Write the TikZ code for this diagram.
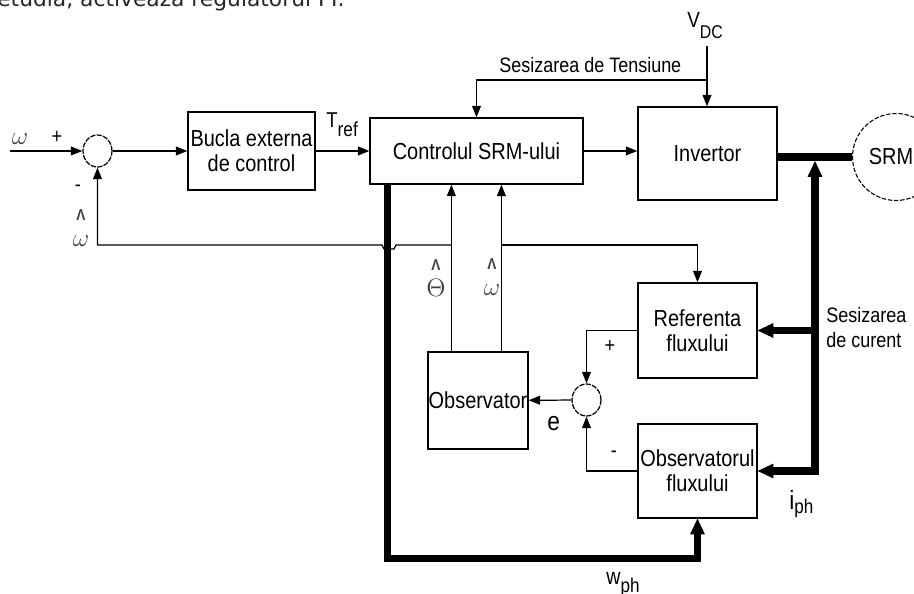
\documentclass[tikz,border=0pt]{standalone}
\usepackage{fontspec}
\setmainfont{Liberation Sans}[FakeStretch=0.86]
\newfontfamily\docfont{DejaVu Sans}
\usetikzlibrary{arrows.meta,calc,shapes.geometric}

\newcommand\blkfont{\fontsize{13.2}{14.2}\selectfont}
\newcommand\notefont{\fontsize{11.9}{14.2}\selectfont}
\newcommand\estim[1]{{\fontsize{9}{9}\selectfont\bfseries Λ}\\[1pt]$#1$}

\tikzset{
  blk/.style={draw, line width=0.7pt, font=\blkfont, align=center, inner sep=0pt},
  sumc/.style={ellipse, draw, line width=0.7pt, minimum width=0.58cm, minimum height=0.64cm,
    inner sep=0pt, dash pattern=on 3pt off 0.7pt},
  sig/.style={line width=0.7pt, -{Triangle[length=6.5pt,width=5pt]}},
  bus/.style={line width=4.4pt, -{Triangle[length=9pt,width=8.5pt,line width=0pt]}},
  lbl/.style={inner sep=0pt, font=\blkfont},
  greek/.style={inner sep=0pt, align=center, text=black!75, font=\fontsize{13.5}{13.5}\selectfont},
}

\begin{document}
\begin{tikzpicture}[x=0.02cm, y=-0.02cm, line join=miter]
  \useasboundingbox (0,0) rectangle (914,594);

  % line of the page above the figure
  \begin{scope}
    \clip (0,0) rectangle (914,594);
    \node[anchor=base west, inner sep=0pt, font=\docfont\fontsize{12.4}{13}\selectfont, text=black!85]
      (pagetxt) at (-3,7) {etudia, activeaza regulatorul PI.};
  \end{scope}

  % blocks
  \node[blk, minimum width=2.54cm, minimum height=1.56cm] (bucla) at (251.5,151) {Bucla externa\\de control};
  \node[blk, minimum width=4.26cm, minimum height=1.32cm] (ctrl) at (476.5,151) {Controlul SRM-ului};
  \node[blk, minimum width=2.78cm, minimum height=1.86cm] (inv) at (707.5,153.5) {Invertor};
  \node[blk, minimum width=2.38cm, minimum height=1.90cm] (ref) at (697.5,330.5) {Referenta\\fluxului};
  \node[blk, minimum width=2.38cm, minimum height=1.88cm] (obsf) at (697.5,471) {Observatorul\\fluxului};
  \node[blk, minimum width=2.00cm, minimum height=1.94cm] (obs) at (478,400.5) {Observator};
  \node[sumc] (sum1) at (97.5,151) {};
  \node[sumc] (sum2) at (586.5,400) {};
  \node[circle, draw, line width=0.6pt, minimum size=1.74cm, dash pattern=on 2.5pt off 1pt] (srm) at (896,157) {};
  \node[lbl] (srmtxt) at (891,157) {SRM};

  % signal paths
  \coordinate (win) at (10,151);
  \draw[sig] (win) -- (sum1);
  \draw[sig] (sum1) -- (bucla);
  \draw[sig] (bucla) -- (ctrl);
  \draw[sig] (ctrl.east) -- (ctrl.east -| inv.west);

  \coordinate (vdc) at (707,46);
  \coordinate (tens) at (707,80);
  \draw[sig] (vdc) -- (vdc |- inv.north);
  \draw[sig] (tens) -| (ctrl.north);

  % power line and current sensing
  \draw[line width=4.4pt] (inv.east |- srm) -- (srm);
  \coordinate (isens) at (815,475);
  \draw[bus] (isens) -- ($(isens |- srm)+(0,4)$);
  \draw[bus] (isens |- ref) -- (ref.east);
  \draw[bus] ($(isens |- obsf)+(4,0)$) -- (obsf.east);

  % phase speed to flux observer
  \draw[bus] (ctrl.south west) ++(18,0) -- ++(0,374) -| (obsf.south);

  % observer outputs and feedback
  \coordinate (thout) at ($(obs.north west)+(24,0)$);
  \coordinate (omout) at ($(obs.north west)+(74,0)$);
  \coordinate (fbrow) at (0,245);
  \draw[sig] (thout) -- (thout |- ctrl.south);
  \draw[sig] (omout) -- (omout |- ctrl.south);
  \draw[sig] (thout |- fbrow) -- (396,245) -- (394,249) -- (384,249) -- (382,245) -| (sum1);
  \draw[sig] (omout |- fbrow) -| (ref.north);

  % flux error
  \draw[sig] (ref.west) -| (sum2);
  \draw[sig] (obsf.west) -| (sum2);
  \draw[sig] (sum2) -- (obs);

  % labels
  \node[greek] (wlbl) at (20,139) {$\omega$};
  \node[lbl, font=\fontsize{12}{12}\selectfont] (plus1) at (57,137) {+};
  \node[lbl, font=\fontsize{12}{12}\selectfont] (minus1) at (78,188) {-};
  \node[greek] (whfb) at (81,228) {\estim{\omega}};
  \node[greek] (thlbl) at (436,278) {\estim{\Theta}};
  \node[greek] (whlbl) at (492,277) {\estim{\omega}};
  \node[lbl, anchor=base west, font=\fontsize{12.2}{13}\selectfont] (tref) at (326,128)
    {T\raisebox{-5pt}{\fontsize{11.5}{12}\selectfont ref}};
  \node[lbl, anchor=base west, font=\fontsize{12.5}{13}\selectfont] (vdclbl) at (687,28)
    {V\raisebox{-6pt}{\fontsize{10.5}{11}\selectfont DC}};
  \node[lbl, anchor=base west, font=\notefont] (tenslbl) at (499,73) {Sesizarea de Tensiune};
  \node[lbl, anchor=west, align=left, font=\notefont] (curlbl) at (826,328) {Sesizarea\\de curent};
  \node[lbl, anchor=base west, font=\fontsize{15}{15}\selectfont] (elbl) at (547,431) {e};
  \node[lbl, font=\fontsize{12}{12}\selectfont] (plus2) at (610,346) {+};
  \node[lbl, font=\fontsize{12}{12}\selectfont] (minus2) at (614,454) {-};
  \node[lbl, anchor=base west, font=\fontsize{15}{15}\selectfont] (iph) at (789,510)
    {i\raisebox{-2pt}{\fontsize{11.3}{12}\selectfont ph}};
  \node[lbl, anchor=base west, font=\fontsize{13}{13}\selectfont] (wph) at (606,585)
    {w\raisebox{-4pt}{\fontsize{11.3}{12}\selectfont ph}};
\end{tikzpicture}
\end{document}
